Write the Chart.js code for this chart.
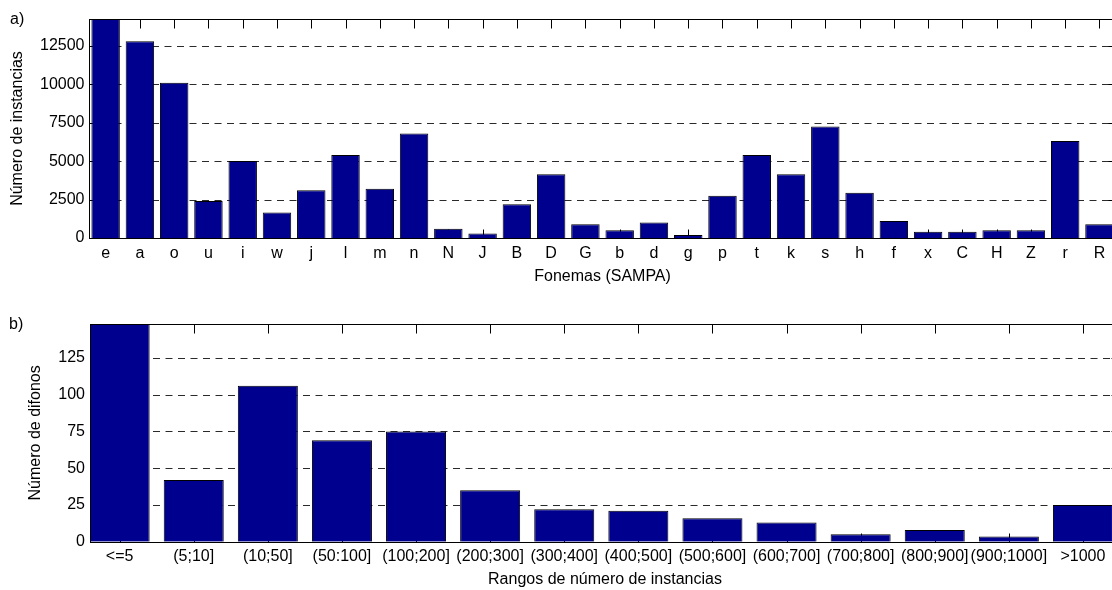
<!DOCTYPE html>
<html>
<head>
<meta charset="utf-8">
<script src="https://cdn.jsdelivr.net/npm/chart.js@4/dist/chart.umd.min.js"></script>
<style>
  html, body { margin: 0; padding: 0; background: #fff; overflow: hidden; width: 1112px; height: 590px; }
  canvas { position: absolute; left: 0; }
  #topChart { top: 0; }
  #bottomChart { top: 300px; }
</style>
</head>
<body>
<canvas id="topChart" width="1125" height="300"></canvas>
<canvas id="bottomChart" width="1125" height="290"></canvas>
<script>
// a) phoneme counts
const phonemes = ['e', 'a', 'o', 'u', 'i', 'w', 'j', 'l', 'm', 'n', 'N', 'J', 'B', 'D', 'G',
  'b', 'd', 'g', 'p', 't', 'k', 's', 'h', 'f', 'x', 'C', 'H', 'Z', 'r', 'R'];
const phonemeCounts = [15000, 12800, 10100, 2400, 5000, 1650, 3100, 5400, 3200, 6800, 600, 300, 2200, 4150, 900,
  500, 1000, 200, 2750, 5400, 4150, 7250, 2950, 1100, 400, 400, 500, 500, 6300, 900];
const phonemeTicks = [0, 2500, 5000, 7500, 10000, 12500];

// b) diphone counts per range of instances
const rangeLabels = ['<=5', '(5;10]', '(10;50]', '(50:100]', '(100;200]', '(200;300]', '(300;400]',
  '(400;500]', '(500;600]', '(600;700]', '(700;800]', '(800;900]', '(900;1000]', '>1000'];
const diphoneCounts = [160, 42, 106, 69, 75, 35, 22, 21, 16, 13, 5, 8, 3.5, 25];
const diphoneTicks = [0, 25, 50, 75, 100, 125];

const BAR_COLOR = '#00008f';
const FONT = 'Liberation Sans, Arial, sans-serif';

Chart.defaults.font.family = FONT;
Chart.defaults.font.size = 16;
Chart.defaults.color = '#000';
Chart.defaults.animation = false;

function line(ctx, x1, y1, x2, y2) {
  ctx.beginPath();
  ctx.moveTo(x1, y1);
  ctx.lineTo(x2, y2);
  ctx.stroke();
}

// MATLAB-like axes: dashed grid, inward ticks on all sides, full box
const matlabAxes = {
  id: 'matlabAxes',
  beforeDatasetsDraw(chart, args, opts) {
    const { ctx, chartArea: a, scales: { x, y } } = chart;
    const L = Math.round(a.left) + 0.5, R = Math.round(a.right) + 0.5;
    const T = Math.round(a.top) + 0.5, B = Math.round(a.bottom) + 0.5;
    ctx.save();
    ctx.lineWidth = 1;
    ctx.strokeStyle = '#2a2a2a';
    ctx.setLineDash([7, 5.5]);
    y.ticks.forEach(t => {
      if (t.value === 0) return;
      const py = Math.round(y.getPixelForValue(t.value)) + 0.5;
      line(ctx, L, py, R, py);
    });
    ctx.setLineDash([]);
    ctx.strokeStyle = '#000';
    const len = 9;
    x.ticks.forEach((t, i) => {
      const px = Math.round(x.getPixelForTick(i)) + 0.5;
      line(ctx, px, T, px, T + len);
      line(ctx, px, B, px, B - len);
    });
    y.ticks.forEach(t => {
      const py = Math.round(y.getPixelForValue(t.value)) + 0.5;
      line(ctx, L, py, L + len, py);
      line(ctx, R, py, R - len, py);
    });
    ctx.restore();
  },
  afterDatasetsDraw(chart, args, opts) {
    const { ctx, chartArea: a } = chart;
    const L = Math.round(a.left) + 0.5, R = Math.round(a.right) + 0.5;
    const T = Math.round(a.top) + 0.5, B = Math.round(a.bottom) + 0.5;
    ctx.save();
    ctx.strokeStyle = '#000';
    ctx.lineWidth = 1;
    ctx.strokeRect(L, T, R - L, B - T);
    ctx.fillStyle = '#000';
    ctx.font = '16px ' + FONT;
    ctx.textBaseline = 'alphabetic';
    ctx.textAlign = 'left';
    ctx.fillText(opts.tag, opts.tagX, opts.tagY);
    ctx.restore();
  }
};

new Chart(document.getElementById('topChart'), {
  type: 'bar',
  data: {
    labels: phonemes,
    datasets: [{
      data: phonemeCounts,
      backgroundColor: BAR_COLOR,
      borderColor: '#000',
      borderWidth: 1,
      barPercentage: 0.83,
      categoryPercentage: 1.0
    }]
  },
  options: {
    responsive: false,
    layout: { padding: { top: 19, right: 8.4, bottom: 0, left: 0 } },
    plugins: {
      legend: { display: false },
      tooltip: { enabled: false },
      matlabAxes: { tag: 'a)', tagX: 10, tagY: 23.5 }
    },
    scales: {
      x: {
        offset: true,
        grid: { display: false, drawTicks: false },
        border: { display: false },
        ticks: { padding: 6, maxRotation: 0, autoSkip: false },
        title: { display: true, text: 'Fonemas (SAMPA)', padding: { top: 0, bottom: 14 } },
        afterFit(scale) { scale.height = 62; }
      },
      y: {
        min: 0,
        max: 14240,
        grid: { display: false, drawTicks: false },
        border: { display: false },
        afterBuildTicks(scale) { scale.ticks = phonemeTicks.map(v => ({ value: v })); },
        ticks: { padding: 4, callback: v => String(v) },
        title: { display: true, text: 'Número de instancias', padding: { top: 8.4, bottom: 0 } },
        afterFit(scale) { scale.width = 88.5; }
      }
    }
  },
  plugins: [matlabAxes]
});

new Chart(document.getElementById('bottomChart'), {
  type: 'bar',
  data: {
    datasets: [{
      data: diphoneCounts.map((v, i) => ({ x: i + 1, y: v })),
      backgroundColor: BAR_COLOR,
      borderColor: '#000',
      borderWidth: 1,
      barPercentage: 0.81,
      categoryPercentage: 1.0
    }]
  },
  options: {
    responsive: false,
    layout: { padding: { top: 24, right: 5, bottom: 0, left: 0 } },
    plugins: {
      legend: { display: false },
      tooltip: { enabled: false },
      matlabAxes: { tag: 'b)', tagX: 9, tagY: 28.5 }
    },
    scales: {
      x: {
        type: 'linear',
        min: 0.6,
        max: 14.5,
        offset: false,
        grid: { display: false, drawTicks: false },
        border: { display: false },
        afterBuildTicks(scale) { scale.ticks = rangeLabels.map((_, i) => ({ value: i + 1 })); },
        ticks: { padding: 5, maxRotation: 0, autoSkip: false, callback: v => rangeLabels[v - 1] },
        title: { display: true, text: 'Rangos de número de instancias', padding: { top: 0, bottom: 1 } },
        afterFit(scale) { scale.height = 48.3; }
      },
      y: {
        min: 0,
        max: 148,
        grid: { display: false, drawTicks: false },
        border: { display: false },
        afterBuildTicks(scale) { scale.ticks = diphoneTicks.map(v => ({ value: v })); },
        ticks: { padding: 5, callback: v => String(v) },
        title: { display: true, text: 'Número de difonos', padding: { top: 26.4, bottom: 0 } },
        afterFit(scale) { scale.width = 90; }
      }
    }
  },
  plugins: [matlabAxes]
});
</script>
</body>
</html>
